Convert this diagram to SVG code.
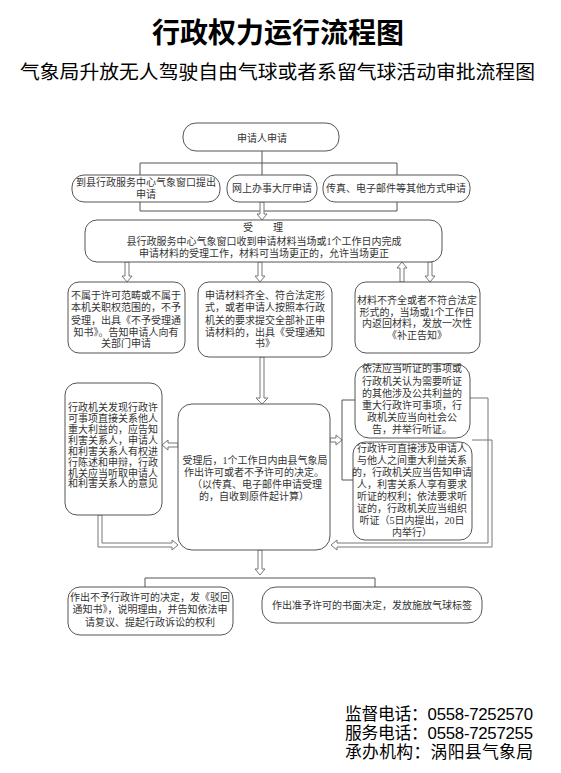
<svg xmlns="http://www.w3.org/2000/svg" width="561" height="773" viewBox="0 0 561 773">
<style>
.bx{fill:#fff;stroke:#555;stroke-width:1}
.ln{fill:none;stroke:#555;stroke-width:1}
.ha{fill:#fff;stroke:#777;stroke-width:1}
.t{font-family:"Liberation Serif","Noto Sans CJK SC",serif;font-size:10px;fill:#333;text-anchor:middle}
.ttl{font-family:"Noto Sans CJK SC",sans-serif;font-size:28px;font-weight:bold;fill:#000;text-anchor:middle}
.sub{font-family:"Noto Sans CJK SC",sans-serif;font-size:19px;fill:#000}
.ft{font-family:"Liberation Sans","Noto Sans CJK SC",sans-serif;font-size:16.8px;fill:#000}
</style>
<rect width="561" height="773" fill="#fff"/>
<text class="ttl" x="278" y="43">行政权力运行流程图</text>
<text class="sub" x="20" y="79" textLength="515" lengthAdjust="spacingAndGlyphs">气象局升放无人驾驶自由气球或者系留气球活动审批流程图</text>

<g id="connectors">
<path class="ln" d="M262,151 V175 M140,175 V163 H397 V175 M140,202 V211 H397 V202"/>
<polygon class="ha" points="260,202 260,214 257,214 262,220 267,214 264,214 264,202"/>
<polygon class="ha" points="125,262 125,276 122,276 127,282 132,276 129,276 129,262"/>
<polygon class="ha" points="258,262 258,276 255,276 260,282 265,276 262,276 262,262"/>
<polygon class="ha" points="400,282 400,268 397,268 402,262 407,268 404,268 404,282"/>
<polygon class="ha" points="428,262 428,276 425,276 430,282 435,276 432,276 432,262"/>
<polygon class="ha" points="260,357 260,398 256,398 262,404 268,398 264,398 264,357"/>
<polygon class="ha" points="178,443 168,443 168,440 162,445 168,450 168,447 178,447"/>
<polygon class="ha" points="98,515 98,547 172,547 172,550 178,545 172,540 172,543 102,543 102,515"/>
<polygon class="ha" points="330,438 336,438 336,435 342,440 336,445 336,442 330,442"/>
<path class="ln" d="M355,400 H342 V480 H353"/>
<path class="ha" style="fill:none" d="M470,398 H488 V543 H337 V540 L331,545 L337,550 V547 H492 V440 H472"/>
<polygon class="ha" points="258,550 258,569 255,569 260,575 265,569 262,569 262,550"/>
<path class="ln" d="M145,587 V578 H375 V587"/>
</g>

<g id="n-apply">
<rect class="bx" x="183" y="123" width="156" height="28" rx="13"/>
<text class="t" x="262" y="142">申请人申请</text>
</g>
<g id="n-window">
<rect class="bx" x="72" y="175" width="148" height="27" rx="12"/>
<text class="t" x="146" y="186">到县行政服务中心气象窗口提出</text>
<text class="t" x="146" y="198">申请</text>
</g>
<g id="n-online">
<rect class="bx" x="227" y="175" width="90" height="27" rx="12"/>
<text class="t" x="272" y="192">网上办事大厅申请</text>
</g>
<g id="n-fax">
<rect class="bx" x="323" y="175" width="147" height="27" rx="12"/>
<text class="t" x="396" y="192">传真、电子邮件等其他方式申请</text>
</g>
<g id="n-accept">
<rect class="bx" x="85" y="220" width="357" height="42" rx="12"/>
<text class="t" x="263" y="231" xml:space="preserve">受　　理</text>
<text class="t" x="264" y="245">县行政服务中心气象窗口收到申请材料当场或1个工作日内完成</text>
<text class="t" x="264" y="257">申请材料的受理工作，材料可当场更正的，允许当场更正</text>
</g>
<g id="n-reject">
<rect class="bx" x="68" y="282" width="117" height="71" rx="11"/>
<text class="t" x="126" y="299">不属于许可范畴或不属于</text>
<text class="t" x="126" y="311">本机关职权范围的，不予</text>
<text class="t" x="126" y="324">受理，出具《不予受理通</text>
<text class="t" x="126" y="336">知书》。告知申请人向有</text>
<text class="t" x="126" y="347">关部门申请</text>
</g>
<g id="n-complete">
<rect class="bx" x="198" y="282" width="134" height="75" rx="11"/>
<text class="t" x="265" y="299">申请材料齐全、符合法定形</text>
<text class="t" x="265" y="311">式，或者申请人按照本行政</text>
<text class="t" x="265" y="324">机关的要求提交全部补正申</text>
<text class="t" x="265" y="336">请材料的，出具《受理通知</text>
<text class="t" x="265" y="347">书》</text>
</g>
<g id="n-incomplete">
<rect class="bx" x="355" y="282" width="125" height="71" rx="11"/>
<text class="t" x="417" y="304">材料不齐全或者不符合法定</text>
<text class="t" x="417" y="316">形式的，当场或1个工作日</text>
<text class="t" x="417" y="327">内返回材料，发放一次性</text>
<text class="t" x="417" y="339">《补正告知》</text>
</g>
<g id="n-decide">
<rect class="bx" x="178" y="404" width="152" height="146" rx="14"/>
<text class="t" x="255" y="464">受理后，1个工作日内由县气象局</text>
<text class="t" x="254" y="476">作出许可或者不予许可的决定。</text>
<text class="t" x="257" y="488">（以传真、电子邮件申请受理</text>
<text class="t" x="254" y="500">的，自收到原件起计算）</text>
</g>
<g id="n-notify">
<rect class="bx" x="65" y="383" width="97" height="132" rx="12"/>
<text class="t" x="113" y="411">行政机关发现行政许</text>
<text class="t" x="113" y="422">可事项直接关系他人</text>
<text class="t" x="113" y="433">重大利益的，应告知</text>
<text class="t" x="113" y="444">利害关系人，申请人</text>
<text class="t" x="113" y="455">和利害关系人有权进</text>
<text class="t" x="113" y="466">行陈述和申辩，行政</text>
<text class="t" x="113" y="477">机关应当听取申请人</text>
<text class="t" x="113" y="487">和利害关系人的意见</text>
</g>
<g id="n-hearing-public">
<rect class="bx" x="355" y="364" width="115" height="74" rx="14"/>
<text class="t" x="412" y="372">依法应当听证的事项或</text>
<text class="t" x="412" y="385">行政机关认为需要听证</text>
<text class="t" x="412" y="397">的其他涉及公共利益的</text>
<text class="t" x="412" y="409">重大行政许可事项，行</text>
<text class="t" x="412" y="421">政机关应当向社会公</text>
<text class="t" x="412" y="433">告，并举行听证。</text>
</g>
<g id="n-hearing-party">
<rect class="bx" x="353" y="442" width="119" height="98" rx="12"/>
<text class="t" x="412" y="452">行政许可直接涉及申请人</text>
<text class="t" x="412" y="464">与他人之间重大利益关系</text>
<text class="t" x="412" y="476">的，行政机关应当告知申请</text>
<text class="t" x="412" y="488">人，利害关系人享有要求</text>
<text class="t" x="412" y="500">听证的权利；依法要求听</text>
<text class="t" x="412" y="512">证的，行政机关应当组织</text>
<text class="t" x="412" y="524">听证（5日内提出，20日</text>
<text class="t" x="412" y="536">内举行）</text>
</g>
<g id="n-deny">
<rect class="bx" x="68" y="587" width="165" height="48" rx="12"/>
<text class="t" x="150" y="601">作出不予行政许可的决定，发《驳回</text>
<text class="t" x="150" y="613">通知书》，说明理由，并告知依法申</text>
<text class="t" x="150" y="626">请复议、提起行政诉讼的权利</text>
</g>
<g id="n-grant">
<rect class="bx" x="262" y="587" width="220" height="36" rx="14"/>
<text class="t" x="372" y="609">作出准予许可的书面决定，发放施放气球标签</text>
</g>

<g id="footer">
<text class="ft" x="345" y="720" textLength="188">监督电话：0558-7252570</text>
<text class="ft" x="345" y="739" textLength="188">服务电话：0558-7257255</text>
<text class="ft" x="345" y="758" textLength="188">承办机构：涡阳县气象局</text>
</g>
</svg>
